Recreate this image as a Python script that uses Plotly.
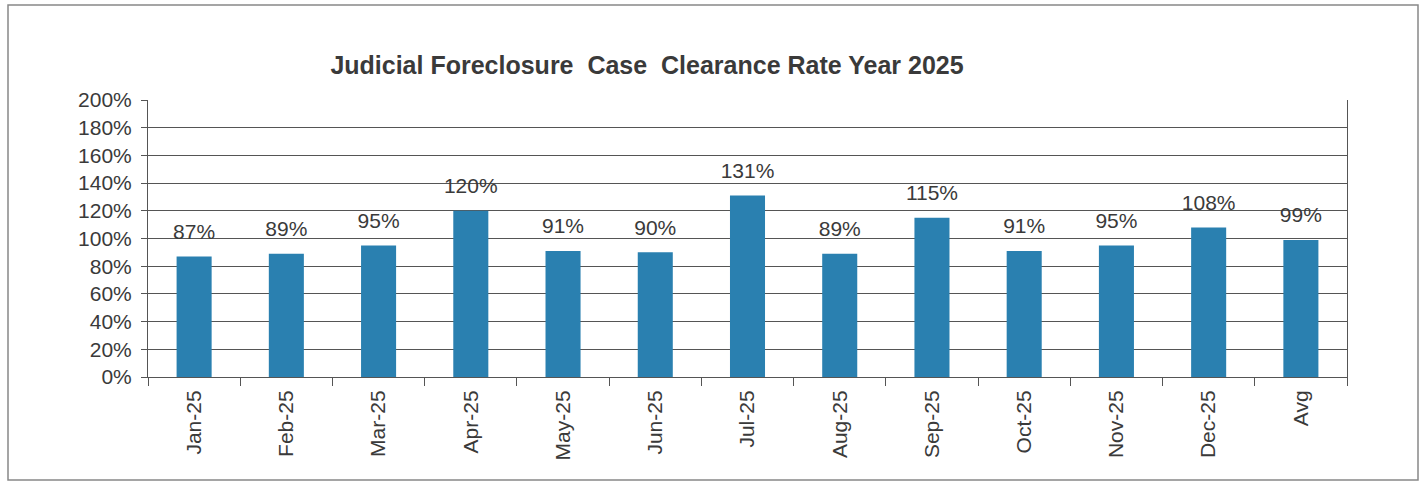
import plotly.graph_objects as go

categories = ["Jan-25", "Feb-25", "Mar-25", "Apr-25", "May-25", "Jun-25", "Jul-25",
              "Aug-25", "Sep-25", "Oct-25", "Nov-25", "Dec-25", "Avg"]
rates = [87, 89, 95, 120, 91, 90, 131, 89, 115, 91, 95, 108, 99]
labels = [f"{v}%" for v in rates]
title = "Judicial Foreclosure&nbsp; Case&nbsp; Clearance Rate Year 2025"

TXT = "#3a3a3a"
FONT = "Liberation Sans, Arial, sans-serif"

fig = go.Figure()
fig.add_trace(go.Bar(
    x=categories, y=rates, marker=dict(color="#2a80b0", line=dict(width=0)),
    width=0.38, hoverinfo="x+y",
))
fig.add_trace(go.Scatter(
    x=categories, y=rates, text=labels, mode="markers+text", textposition="top center",
    textfont=dict(size=21, color=TXT, family=FONT),
    marker=dict(size=18, opacity=0), cliponaxis=False, hoverinfo="skip",
))

L, R, T, B = 148, 78, 100, 105
W, H = 1425, 482
pw, ph = W - L - R, H - T - B

def px(x):
    return (x - L) / pw

def py(y):
    return (H - B - y) / ph

fig.update_layout(
    width=W, height=H,
    margin=dict(l=L, r=R, t=T, b=B),
    paper_bgcolor="white", plot_bgcolor="white",
    font=dict(family=FONT, color=TXT, size=20),
    showlegend=False,
    title=dict(text=f"<b>{title}</b>", x=px(647), xanchor="center", xref="paper",
               y=1 - 65 / H, yanchor="middle", font=dict(size=25, color=TXT, family=FONT)),
    xaxis=dict(type="category", range=[-0.5, len(categories) - 0.5],
               tickangle=-90, ticks="outside", tickson="boundaries",
               ticklen=8, tickcolor="#555", showline=True, linecolor="#555", linewidth=1,
               mirror=False, tickfont=dict(size=21, color=TXT), showgrid=False,
               ticklabelstandoff=4),
    yaxis=dict(range=[0, 200], dtick=20, ticksuffix="%", ticks="outside", ticklen=6,
               tickcolor="#555", showline=True, linecolor="#555", linewidth=1, mirror=True,
               showgrid=True, gridcolor="#555", gridwidth=1, zeroline=False,
               tickfont=dict(size=21, color=TXT), ticklabelstandoff=5),
    shapes=[dict(type="rect", xref="paper", yref="paper",
                 x0=px(8), x1=px(1418), y0=py(480), y1=py(5),
                 line=dict(color="#888", width=1.5), fillcolor="rgba(0,0,0,0)", layer="below")],
)

fig.write_html("out.html", config={"displayModeBar": False},
               post_script="document.body.style.margin='0';document.body.style.overflow='hidden';")
